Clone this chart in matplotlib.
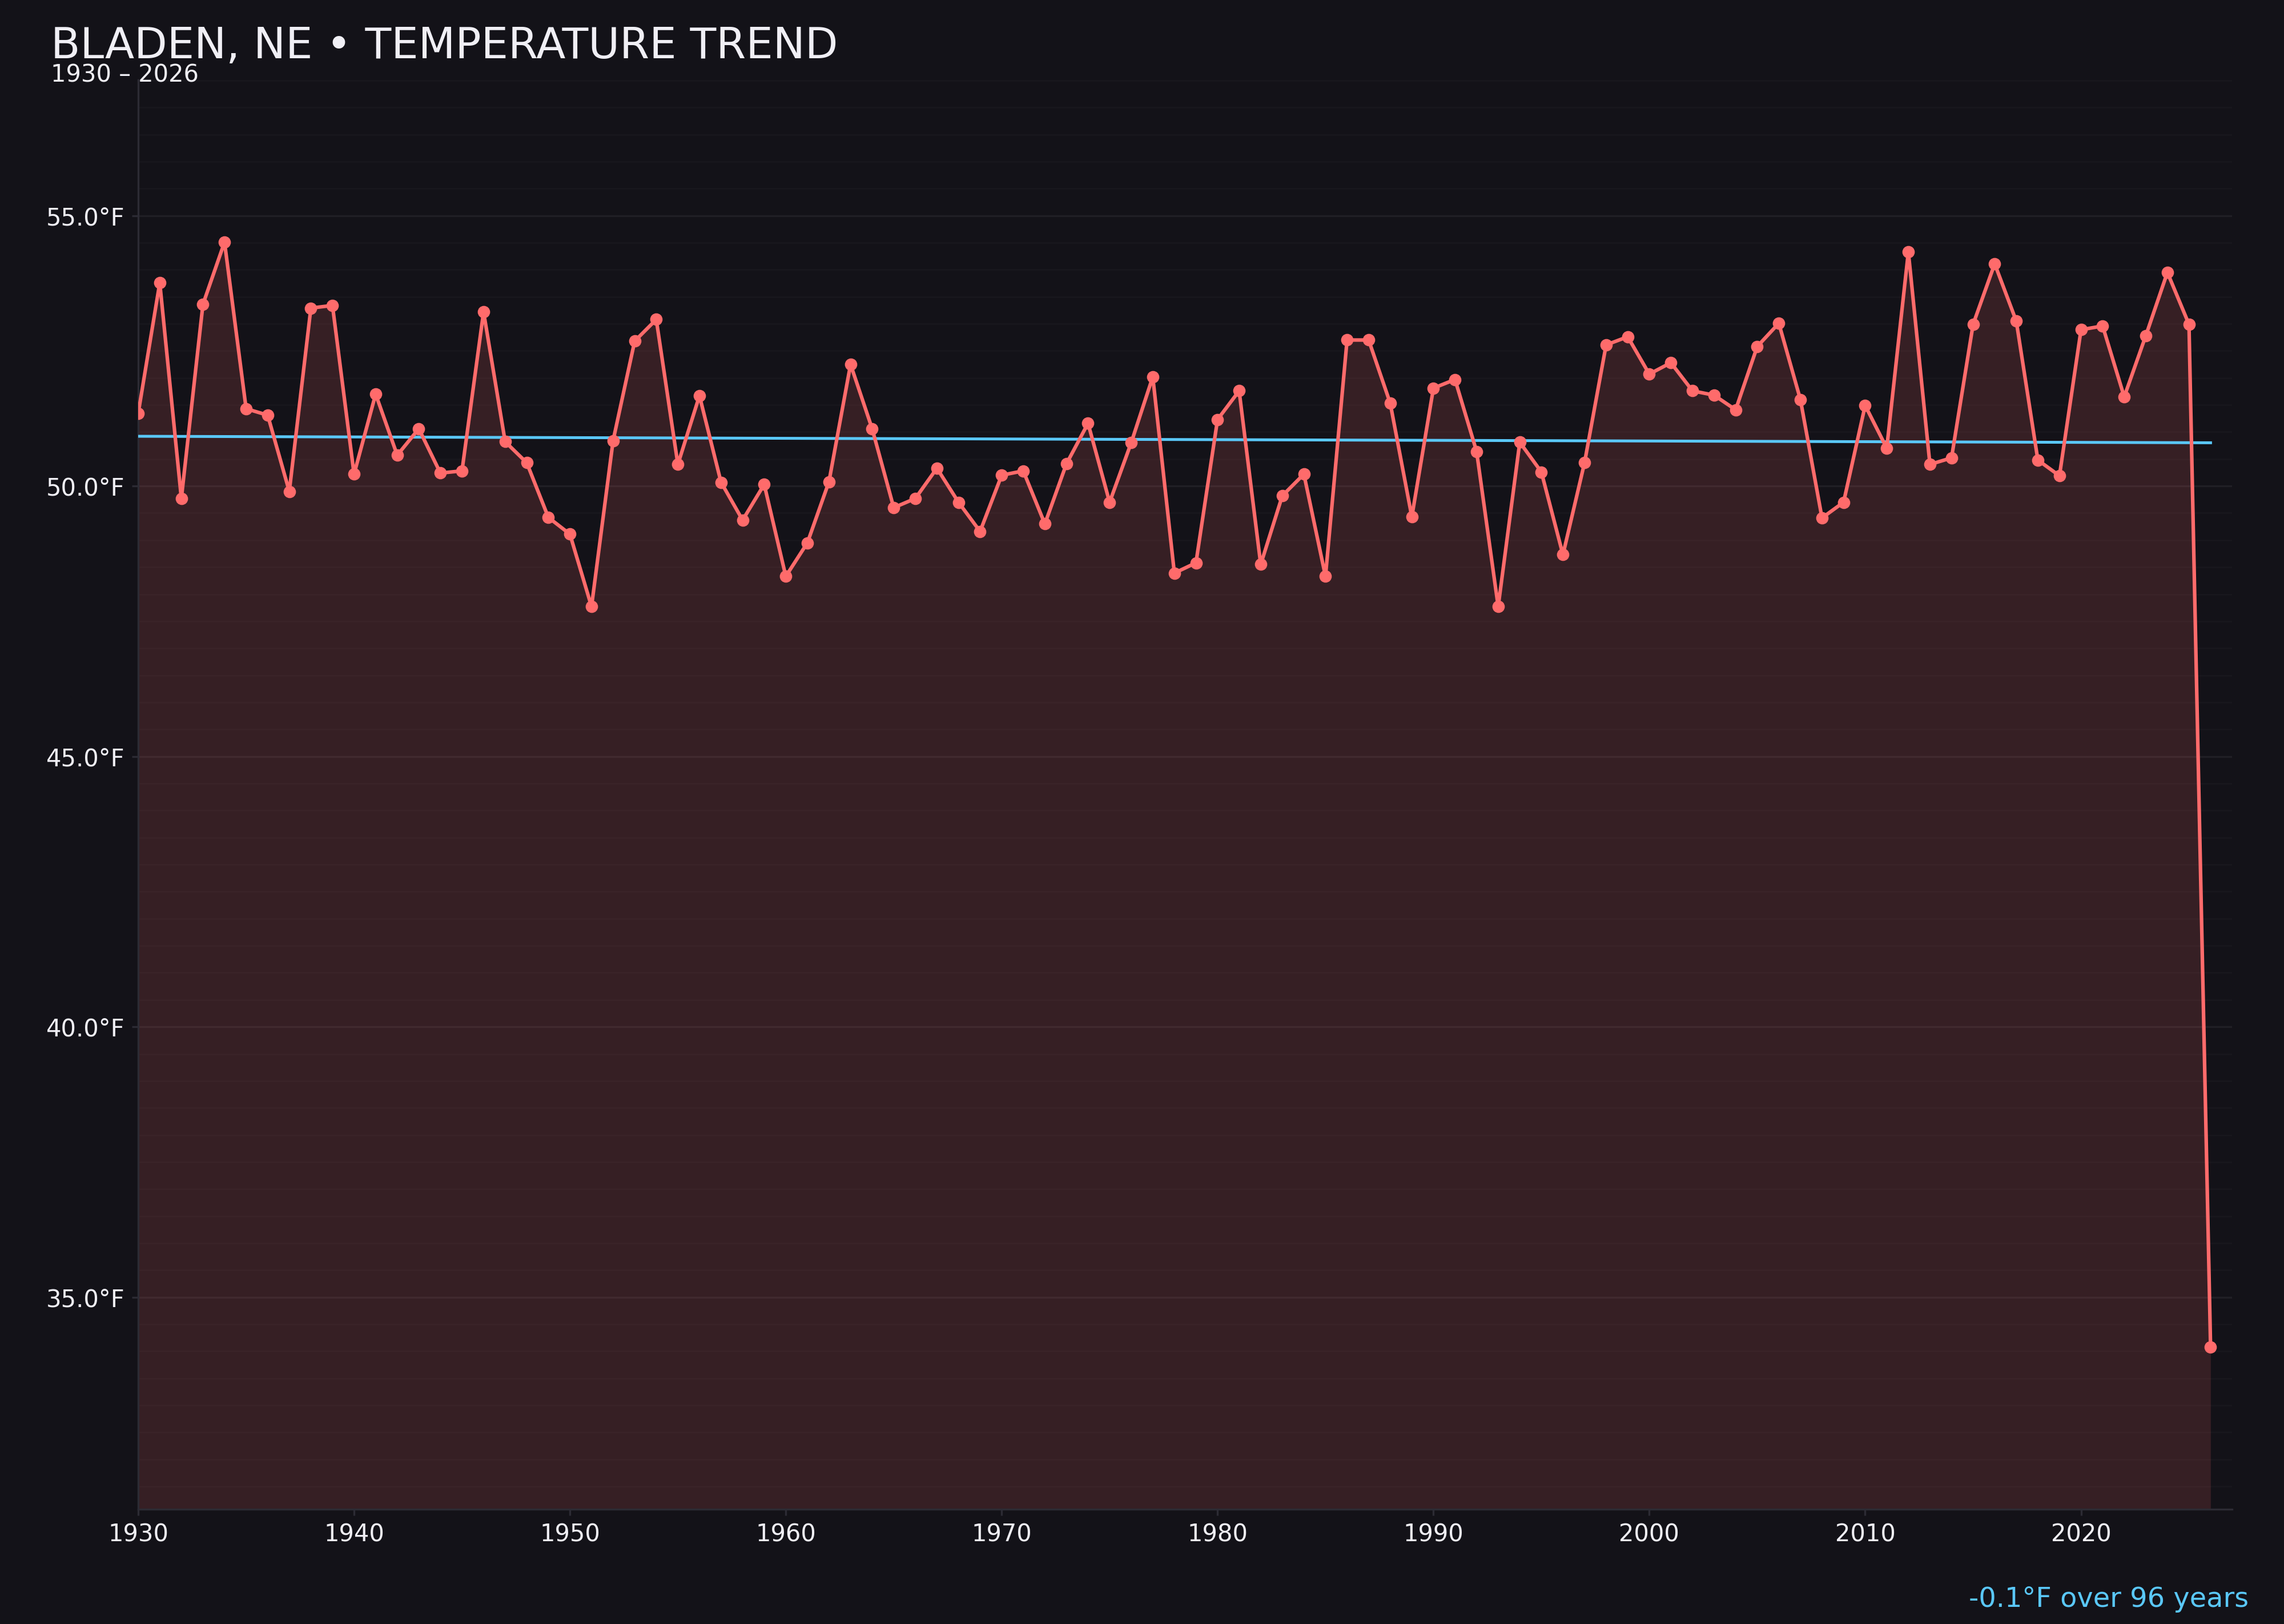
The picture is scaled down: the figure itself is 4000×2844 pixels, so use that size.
import matplotlib
matplotlib.use("Agg")
import matplotlib.pyplot as plt
from matplotlib.ticker import MultipleLocator, FuncFormatter
import numpy as np

years = list(range(1930, 2027))
temps = [
    51.34, 53.76, 49.77, 53.36, 54.51, 51.43, 51.31, 49.90, 53.29, 53.34,  # 1930s
    50.22, 51.70, 50.57, 51.06, 50.24, 50.28, 53.22, 50.82, 50.43, 49.42,  # 1940s
    49.11, 47.77, 50.84, 52.68, 53.08, 50.40, 51.67, 50.07, 49.37, 50.03,  # 1950s
    48.33, 48.95, 50.08, 52.25, 51.06, 49.60, 49.77, 50.33, 49.70, 49.16,  # 1960s
    50.20, 50.28, 49.30, 50.41, 51.16, 49.70, 50.80, 52.02, 48.39, 48.58,  # 1970s
    51.23, 51.76, 48.55, 49.82, 50.22, 48.33, 52.70, 52.70, 51.53, 49.43,  # 1980s
    51.81, 51.97, 50.64, 47.77, 50.81, 50.26, 48.73, 50.43, 52.61, 52.76,  # 1990s
    52.07, 52.28, 51.76, 51.68, 51.41, 52.58, 53.01, 51.60, 49.41, 49.70,  # 2000s
    51.49, 50.70, 54.33, 50.40, 50.52, 52.99, 54.11, 53.05, 50.48, 50.19,  # 2010s
    52.89, 52.96, 51.65, 52.78, 53.95, 52.99, 34.08,                        # 2020s
]
trend_years = [1930, 2026]
trend_vals = [50.92, 50.80]

title = "BLADEN, NE \u2022 TEMPERATURE TREND"
subtitle = "1930 \u2013 2026"
trend_label = "-0.1\u00b0F over 96 years"

BG = "#131218"
RED = "#ff6b6b"
BLUE = "#5ac8fa"
FILL = "#ff6b6b"
SPINE = "#2c2b34"
TXT = "#f0eff5"

plt.rcParams['font.family'] = ['DejaVu Sans']

fig = plt.figure(figsize=(4000/300, 2844/300), dpi=300, facecolor=BG)
ax = fig.add_axes([0.0605, 0.0707, 0.9168, 0.8801])
ax.set_facecolor(BG)

x = np.array(years)
y = np.array(temps)
ymin = y.min() - 3
ymax = y.max() + 3

ax.fill_between(x, y, ymin, color=FILL, alpha=0.15, linewidth=0, zorder=2)
ax.plot(x, y, color=RED, linewidth=1.5, marker='o', markersize=4.2, zorder=4)
ax.plot(trend_years, trend_vals, color=BLUE, linewidth=1.2, zorder=3)

ax.set_xlim(1930, 2027)
ax.set_ylim(ymin, ymax)

ax.xaxis.set_major_locator(MultipleLocator(10))
ax.yaxis.set_major_locator(MultipleLocator(5))
ax.yaxis.set_minor_locator(MultipleLocator(0.5))
ax.yaxis.set_major_formatter(FuncFormatter(lambda v, p: f"{v:.1f}\u00b0F"))

ax.grid(which='major', axis='y', color='#ffffff', alpha=0.06, linewidth=0.8, zorder=1)
ax.grid(which='minor', axis='y', color='#ffffff', alpha=0.022, linewidth=0.6, zorder=1)
ax.grid(which='major', axis='x', visible=False)

for s in ['top', 'right']:
    ax.spines[s].set_visible(False)
for s in ['left', 'bottom']:
    ax.spines[s].set_color(SPINE)
    ax.spines[s].set_linewidth(0.8)

ax.tick_params(axis='both', which='major', colors=SPINE, labelcolor=TXT,
               labelsize=10, length=2.6, width=0.8, pad=3)
ax.tick_params(axis='y', which='minor', length=0)

fig.text(0.0223, 0.964, title, color=TXT, fontsize=18, ha='left', va='baseline')
fig.text(0.0223, 0.9497, subtitle, color=TXT, fontsize=10, ha='left', va='baseline')
fig.text(0.9845, 0.0105, trend_label, color=BLUE, fontsize=11.5, ha='right', va='baseline')

fig.savefig("out.png", dpi=300, facecolor=BG)
